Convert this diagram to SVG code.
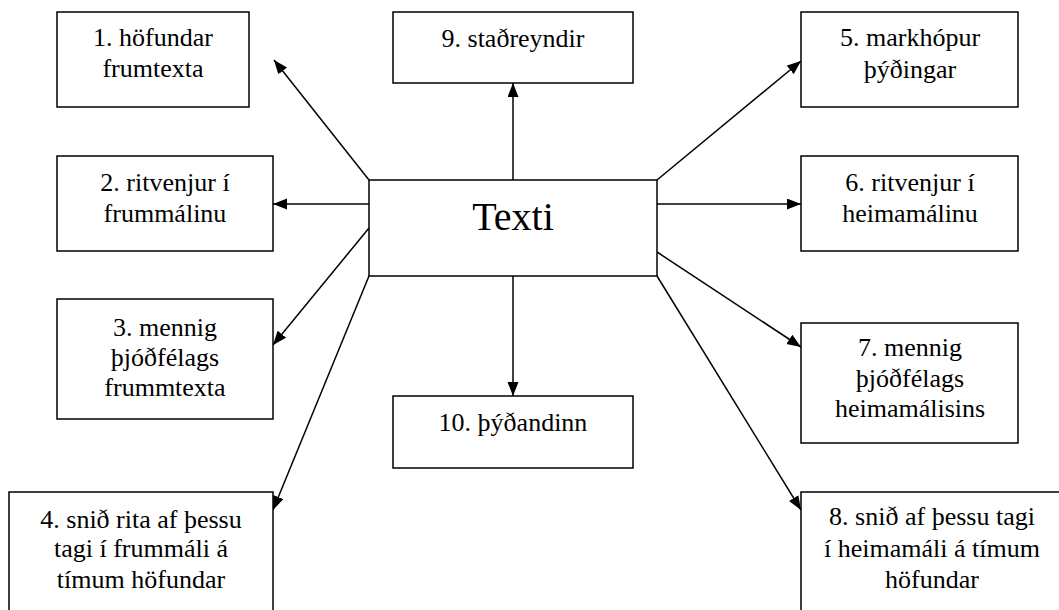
<svg xmlns="http://www.w3.org/2000/svg" width="1059" height="610" viewBox="0 0 1059 610">
<style>
.box{fill:#fff;stroke:#000;stroke-width:1.5}
.t{font-family:'Liberation Serif','Times New Roman',Times,'DejaVu Serif',serif;font-size:26px;fill:#000;text-anchor:middle}
.c{stroke:#000;stroke-width:1.5;fill:none;marker-end:url(#ah)}
</style>
<defs>
<marker id="ah" markerUnits="userSpaceOnUse" markerWidth="15" markerHeight="12" refX="14" refY="5.5" orient="auto">
<path d="M0,0 L14,5.5 L0,11 z" fill="#000"/>
</marker>
</defs>
<rect width="1059" height="610" fill="#fff"/>
<g id="connectors">
<line class="c" x1="369" y1="180" x2="274" y2="60"/>
<line class="c" x1="369" y1="204" x2="273" y2="204"/>
<line class="c" x1="369" y1="228" x2="273" y2="345"/>
<line class="c" x1="369" y1="276" x2="273" y2="510"/>
<line class="c" x1="513" y1="180" x2="513" y2="83"/>
<line class="c" x1="513" y1="276" x2="513" y2="396"/>
<line class="c" x1="657" y1="180" x2="801" y2="61"/>
<line class="c" x1="657" y1="204" x2="801" y2="204"/>
<line class="c" x1="657" y1="252" x2="801" y2="347"/>
<line class="c" x1="657" y1="276" x2="801" y2="510"/>
</g>
<g id="texti">
<rect class="box" x="369" y="180" width="288" height="96"/>
<text class="t" x="513" y="230" font-family="Liberation Serif, serif" style="font-size:40px">Texti</text>
</g>
<g id="n1">
<rect class="box" x="57" y="12" width="192" height="95"/>
<text class="t" x="153" y="46">1. höfundar</text>
<text class="t" x="153" y="77">frumtexta</text>
</g>
<g id="n2">
<rect class="box" x="57" y="156" width="216" height="95"/>
<text class="t" x="165" y="191">2. ritvenjur í</text>
<text class="t" x="165" y="222">frummálinu</text>
</g>
<g id="n3">
<rect class="box" x="57" y="299" width="216" height="120"/>
<text class="t" x="165" y="336">3. mennig</text>
<text class="t" x="165" y="366">þjóðfélags</text>
<text class="t" x="165" y="396">frummtexta</text>
</g>
<g id="n4">
<rect class="box" x="9" y="492" width="264" height="125"/>
<text class="t" x="141" y="528">4. snið rita af þessu</text>
<text class="t" x="141" y="557">tagi í frummáli á</text>
<text class="t" x="141" y="588">tímum höfundar</text>
</g>
<g id="n9">
<rect class="box" x="393" y="12" width="240" height="71"/>
<text class="t" x="513" y="47">9. staðreyndir</text>
</g>
<g id="n10">
<rect class="box" x="393" y="396" width="240" height="72"/>
<text class="t" x="513" y="431">10. þýðandinn</text>
</g>
<g id="n5">
<rect class="box" x="801" y="12" width="217" height="95"/>
<text class="t" x="910" y="46">5. markhópur</text>
<text class="t" x="910" y="78">þýðingar</text>
</g>
<g id="n6">
<rect class="box" x="801" y="156" width="217" height="95"/>
<text class="t" x="910" y="191">6. ritvenjur í</text>
<text class="t" x="910" y="222">heimamálinu</text>
</g>
<g id="n7">
<rect class="box" x="801" y="323" width="217" height="120"/>
<text class="t" x="910" y="356">7. mennig</text>
<text class="t" x="910" y="387">þjóðfélags</text>
<text class="t" x="910" y="417">heimamálisins</text>
</g>
<g id="n8">
<rect class="box" x="801" y="492" width="265" height="125"/>
<text class="t" x="932" y="525">8. snið af þessu tagi</text>
<text class="t" x="932" y="557">í heimamáli á tímum</text>
<text class="t" x="932" y="588">höfundar</text>
</g>
</svg>
